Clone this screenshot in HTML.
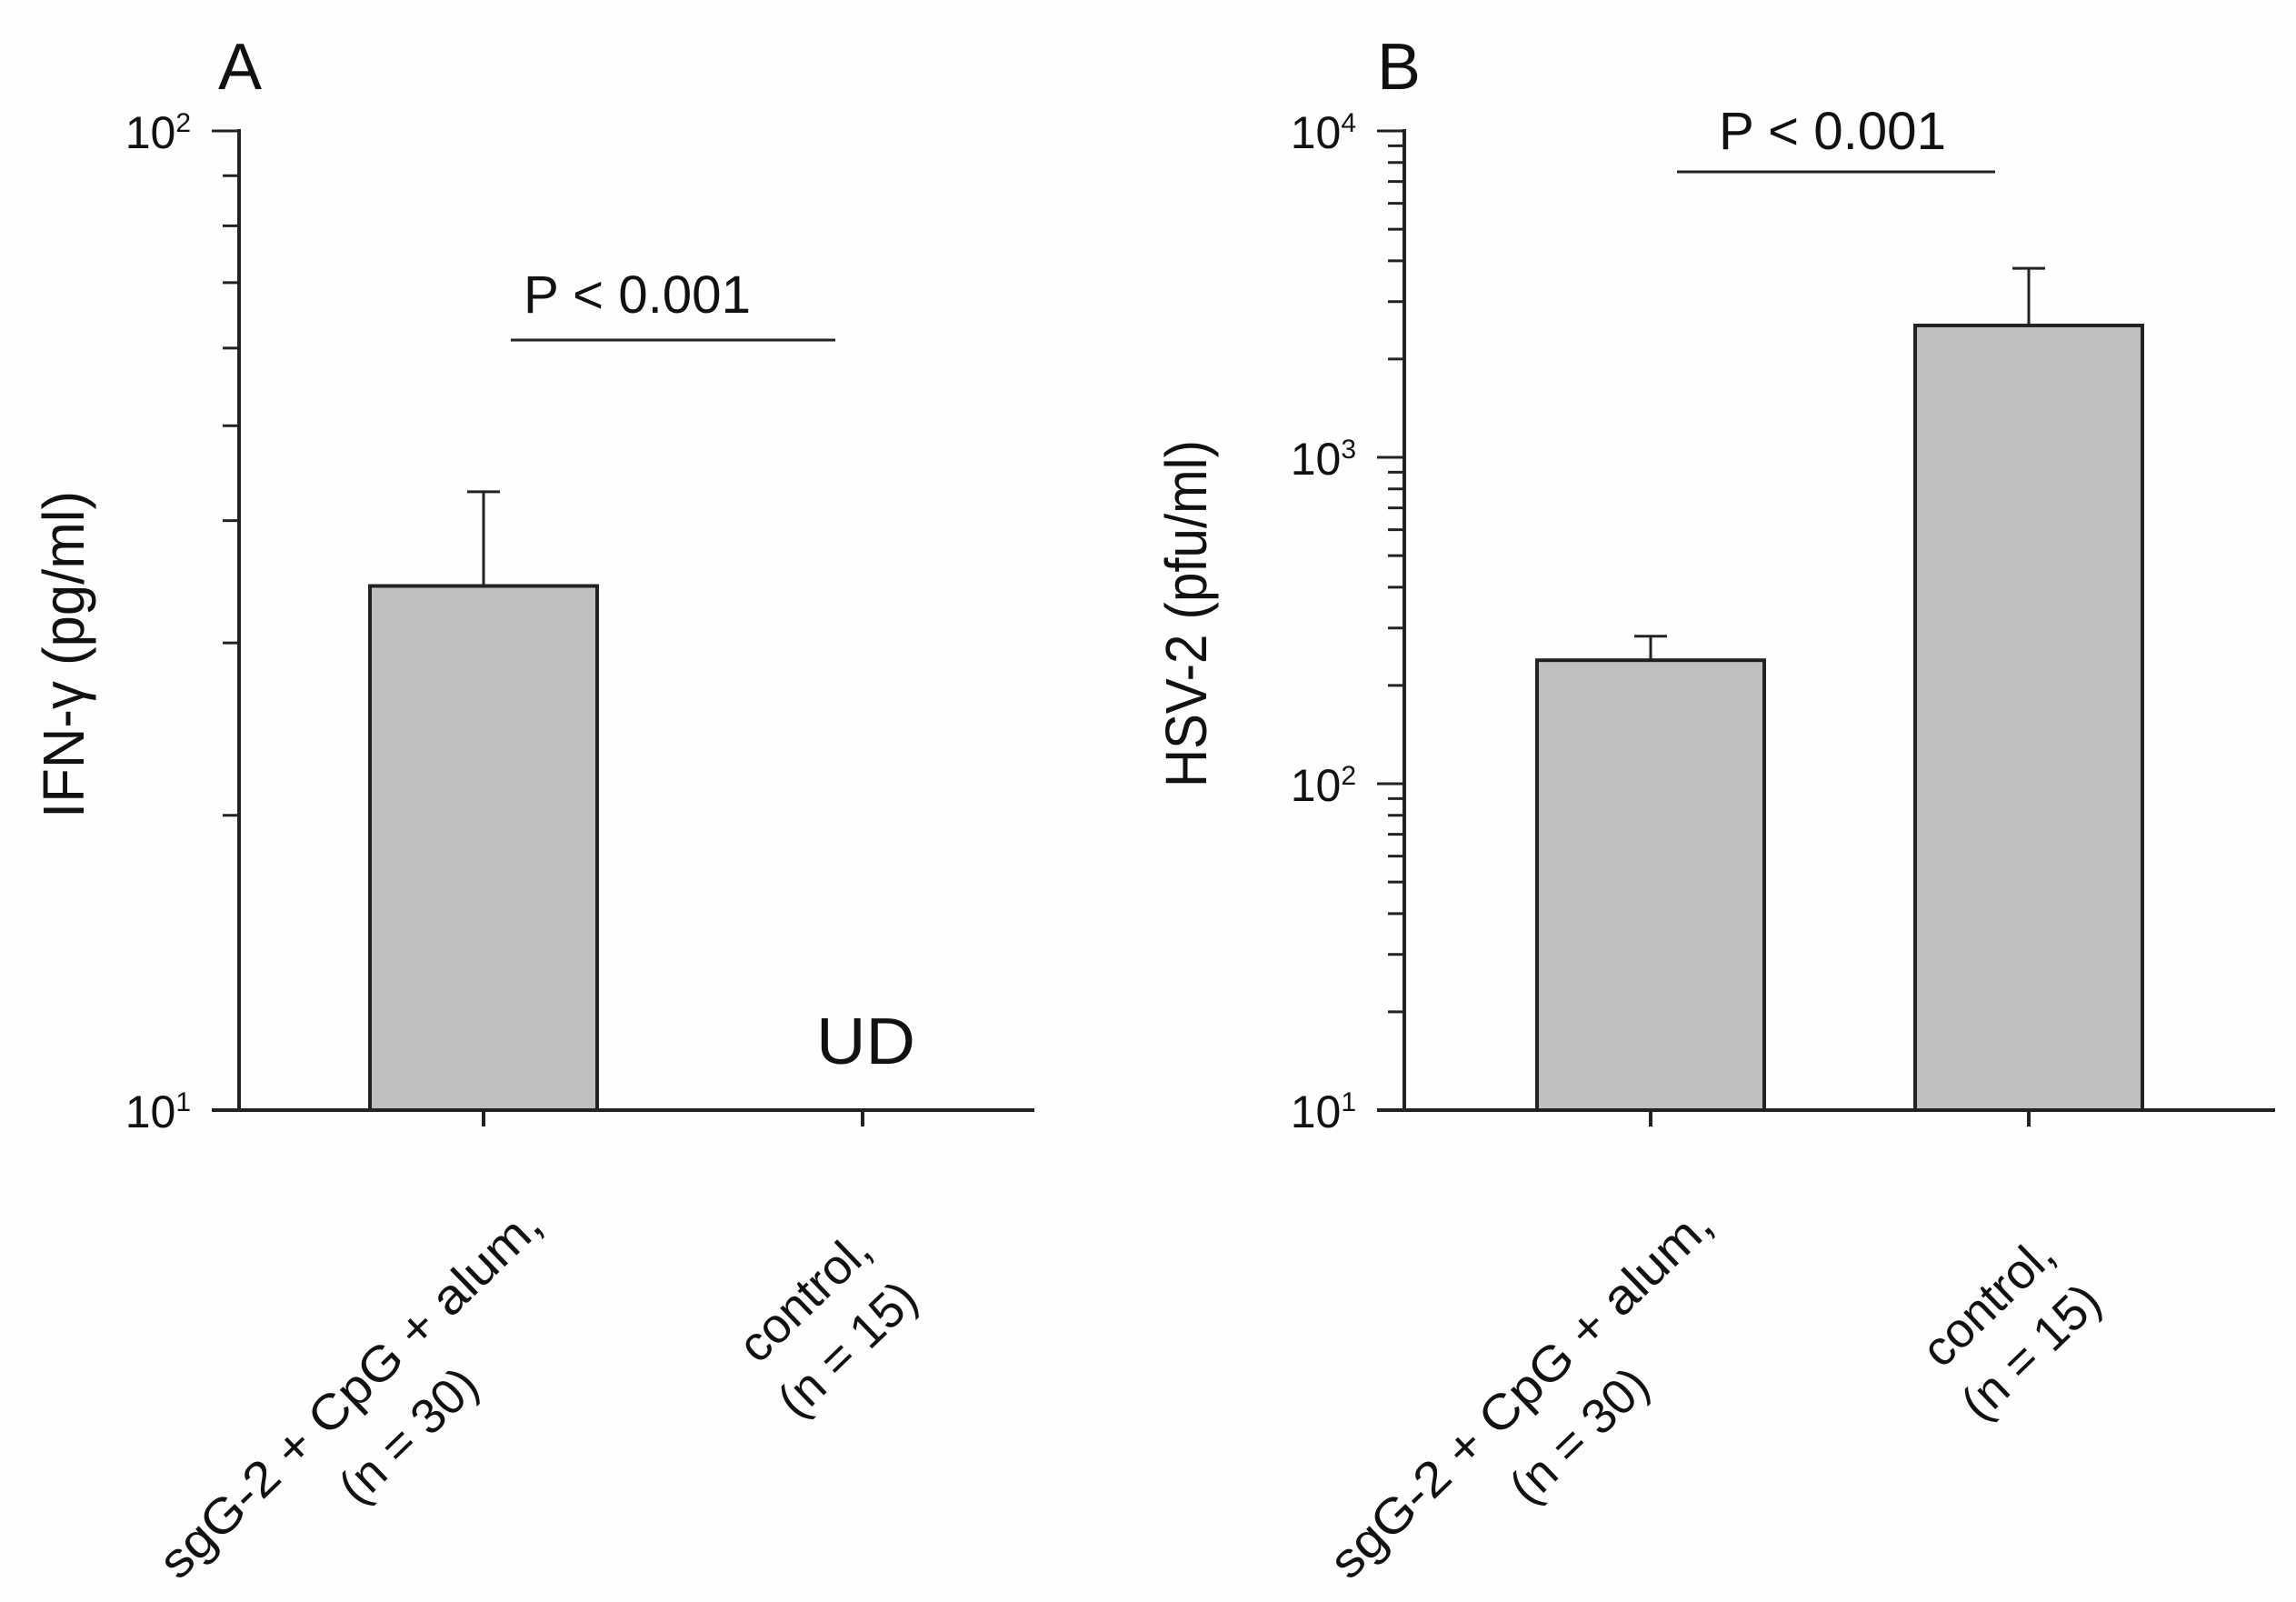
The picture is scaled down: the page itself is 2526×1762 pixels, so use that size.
<!DOCTYPE html>
<html><head><meta charset="utf-8"><style>
html,body{margin:0;padding:0;background:#fefefe;}
svg{display:block;font-family:"Liberation Sans",Arial,sans-serif;}
</style></head><body>
<svg id="chart" width="2526" height="1762" viewBox="0 0 2526 1762" xmlns="http://www.w3.org/2000/svg">
<rect width="2526" height="1762" fill="#fefefe"/>
</svg>
<script>
const categories = ["sgG-2 + CpG + alum,", "control,"];
const nLabels = ["(n = 30)", "(n = 15)"];
const ifnValues = [34.3, null];
const ifnErrors = [42.8, null];
const hsvValues = [239, 2535];
const hsvErrors = [283, 3795];
const ifnTickExps = [1, 2];
const hsvTickExps = [1, 2, 3, 4];

const NS = "http://www.w3.org/2000/svg";
const svg = document.getElementById("chart");
function mk(tag, attrs, parent) {
  const e = document.createElementNS(NS, tag);
  for (const k in attrs) e.setAttribute(k, attrs[k]);
  (parent || svg).appendChild(e);
  return e;
}

function panel(o) {
  const g = mk("g", {});
  
  
  const lo = o.exps[0], hi = o.exps[o.exps.length - 1];
  const y = v => o.bottom - (Math.log10(v) - lo) / (hi - lo) * (o.bottom - o.top);
  const x = i => o.xticks[i];
  o.values.forEach((v, i) => {
    if (v == null) return;
    const cx = x(i), yt = y(v), ye = y(o.errors[i]);
    const eb = mk("line", {x1: cx, x2: cx, y1: yt, y2: ye, stroke: "#222", "stroke-width": 3}, g);
    
    
    const cap = mk("line", {x1: cx - 18, x2: cx + 18, y1: ye, y2: ye, stroke: "#222", "stroke-width": 3}, g);
    
    
    const b = mk("rect", {x: cx - o.barW / 2, y: yt, width: o.barW, height: o.bottom - yt, fill: "#c0c0c2", stroke: "#222", "stroke-width": 4}, g);
    
    
  });
  const ya = mk("line", {x1: o.axisX, x2: o.axisX, y1: o.top - 2, y2: o.bottom + 2, stroke: "#222", "stroke-width": 4}, g);
  
  
  const xa = mk("line", {x1: o.axisX - 30, x2: o.right, y1: o.bottom, y2: o.bottom, stroke: "#222", "stroke-width": 4}, g);
  
  
  for (let e = lo; e <= hi; e++) {
    const yy = y(Math.pow(10, e));
    const t = mk("line", {x1: o.axisX - 30, x2: o.axisX, y1: yy, y2: yy, stroke: "#222", "stroke-width": 3}, g);
    
    
    const tx = mk("text", {x: o.axisX - 53, y: yy + 19, "text-anchor": "end", "font-size": 50, fill: "#111"}, g);
    
    
    tx.appendChild(document.createTextNode("10"));
    const sup = mk("tspan", {"font-size": 30, dy: -18}, tx);
    sup.textContent = String(e);
    if (e < hi) for (let m = 2; m <= 9; m++) {
      const ym = y(m * Math.pow(10, e));
      const mt = mk("line", {x1: o.axisX - 18, x2: o.axisX, y1: ym, y2: ym, stroke: "#222", "stroke-width": 3}, g);
      
      
    }
  }
  categories.forEach((c, i) => {
    const t = mk("line", {x1: x(i), x2: x(i), y1: o.bottom, y2: o.bottom + 18, stroke: "#222", "stroke-width": 4}, g);
    
    
    const c1 = o.lab1[i], c2 = o.lab2[i];
    const l1 = mk("text", {x: c1[0], y: c1[1], "text-anchor": "middle", "font-size": 54, fill: "#111", transform: `rotate(-44 ${c1[0]} ${c1[1]})`}, g);
    
    
    l1.textContent = c;
    if (i === 0) { l1.setAttribute("textLength", 560); l1.setAttribute("lengthAdjust", "spacingAndGlyphs"); }
    const l2 = mk("text", {x: c2[0], y: c2[1], "text-anchor": "middle", "font-size": 54, fill: "#111", transform: `rotate(-44 ${c2[0]} ${c2[1]})`}, g);
    
    
    l2.textContent = nLabels[i];
  });
  const yt = mk("text", {x: o.titleX, y: o.titleY, "text-anchor": "middle", "font-size": 64, fill: "#111", textLength: o.titleLen, lengthAdjust: "spacingAndGlyphs", transform: `rotate(-90 ${o.titleX} ${o.titleY})`}, g);
  
  
  yt.textContent = o.title;
  const pl = mk("text", {x: o.letterX, y: 98, "font-size": 72, fill: "#111"}, g);
  
  
  pl.textContent = o.letter;
  const sl = mk("line", {x1: o.sig[0], x2: o.sig[1], y1: o.sig[2], y2: o.sig[2], stroke: "#222", "stroke-width": 3}, g);
  
  
  const st = mk("text", {x: (o.sigText[0]), y: o.sigText[1], "font-size": 58, fill: "#111", textLength: 250, lengthAdjust: "spacingAndGlyphs"}, g);
  
  
  st.textContent = "P < 0.001";
  return {g, y, x};
}

const A = panel({name: "panel-a", exps: ifnTickExps, top: 144, bottom: 1221, axisX: 263, right: 1138,
  xticks: [532, 949], barW: 250, values: ifnValues, errors: ifnErrors,
  lab1: [[398, 1545], [898, 1440]], lab2: [[462, 1592], [945, 1497]],
  titleX: 92, titleY: 720, titleLen: 360, title: "IFN-γ (pg/ml)", letter: "A", letterX: 240,
  sig: [562, 919, 374], sigText: [576, 344]});
const ud = mk("text", {x: 898, y: 1170, "font-size": 72, fill: "#111", textLength: 109, lengthAdjust: "spacingAndGlyphs"}, A.g);


ud.textContent = "UD";

panel({name: "panel-b", exps: hsvTickExps, top: 144, bottom: 1221, axisX: 1545, right: 2503,
  xticks: [1816, 2232], barW: 250, values: hsvValues, errors: hsvErrors,
  lab1: [[1686, 1545], [2200, 1445]], lab2: [[1750, 1592], [2247, 1500]],
  titleX: 1327, titleY: 675, titleLen: 382, title: "HSV-2 (pfu/ml)", letter: "B", letterX: 1515,
  sig: [1845, 2195, 189], sigText: [1891, 164]});
</script>
</body></html>
